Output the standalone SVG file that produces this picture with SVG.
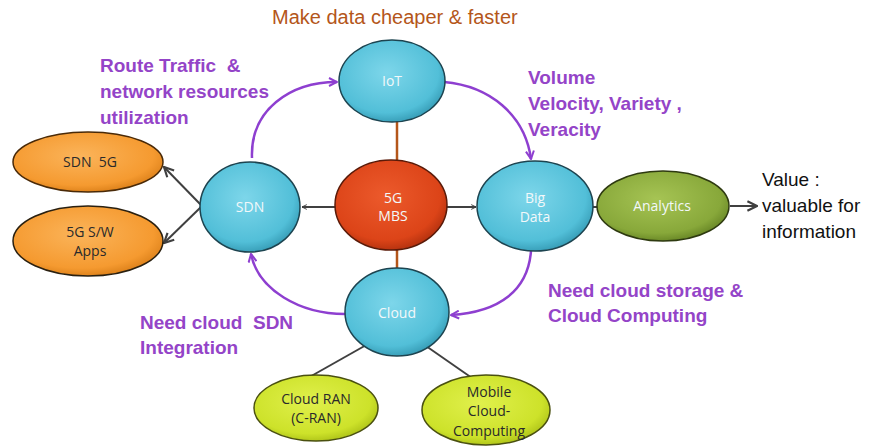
<svg xmlns="http://www.w3.org/2000/svg" width="872" height="447" viewBox="0 0 872 447">
<style>
text{white-space:pre}
.lbl{font-family:"Liberation Sans",Arial,sans-serif;font-size:19px;font-weight:bold;fill:#9444c8}
.nt{font-family:"Open Sans","Liberation Sans",sans-serif;font-size:14px;text-anchor:middle}
.w{fill:#f2f8fa}
.d{fill:#2a2a2a}
.gray{stroke:#404040;stroke-width:2;fill:none}
.pur{stroke:#8e3fd0;stroke-width:2.5;fill:none}
.brn{stroke:#b4561a;stroke-width:2.5;fill:none}
.blue{fill:url(#gBlue);stroke:#1d4450;stroke-width:1.5}
</style>
<defs>
<radialGradient id="gBlue" cx="0.45" cy="0.4" r="0.65"><stop offset="0" stop-color="#7dd6ea"/><stop offset="0.75" stop-color="#52bfd8"/><stop offset="1" stop-color="#2f93ad"/></radialGradient>
<radialGradient id="gRed" cx="0.45" cy="0.4" r="0.65"><stop offset="0" stop-color="#ec5a2c"/><stop offset="0.75" stop-color="#dc4418"/><stop offset="1" stop-color="#a82c0c"/></radialGradient>
<radialGradient id="gOr" cx="0.45" cy="0.4" r="0.65"><stop offset="0" stop-color="#fbb45a"/><stop offset="0.75" stop-color="#f59a30"/><stop offset="1" stop-color="#d67a14"/></radialGradient>
<radialGradient id="gGr" cx="0.45" cy="0.4" r="0.65"><stop offset="0" stop-color="#a6c454"/><stop offset="0.75" stop-color="#88a83a"/><stop offset="1" stop-color="#5f7d20"/></radialGradient>
<radialGradient id="gYg" cx="0.45" cy="0.4" r="0.65"><stop offset="0" stop-color="#e0f04c"/><stop offset="0.75" stop-color="#cde22a"/><stop offset="1" stop-color="#a6bb14"/></radialGradient>
<marker id="aG" viewBox="0 0 10 10" refX="9" refY="5" markerWidth="6" markerHeight="6" orient="auto-start-reverse" markerUnits="userSpaceOnUse"><path d="M1,1 L9,5 L1,9" fill="none" stroke="#404040" stroke-width="1.6"/></marker>
<marker id="aP" viewBox="0 0 10 10" refX="9" refY="5" markerWidth="10" markerHeight="10" orient="auto" markerUnits="userSpaceOnUse"><path d="M1,1 L9,5 L1,9" fill="none" stroke="#8e3fd0" stroke-width="2"/></marker>
<marker id="aK" viewBox="0 0 10 10" refX="9" refY="5" markerWidth="12" markerHeight="12" orient="auto" markerUnits="userSpaceOnUse"><path d="M1,1 L9,5 L1,9" fill="none" stroke="#404040" stroke-width="1.8"/></marker>
</defs>

<g id="connectors">
<line class="brn" x1="397" y1="120" x2="397" y2="164"/>
<line class="brn" x1="397" y1="248" x2="397" y2="270"/>
<line class="gray" x1="336" y1="207" x2="302" y2="207" marker-end="url(#aG)"/>
<line class="gray" x1="446" y1="207" x2="476" y2="207" marker-end="url(#aG)"/>
<line class="gray" x1="593" y1="207" x2="598" y2="207"/>
<line class="gray" x1="730" y1="206" x2="757" y2="206" marker-end="url(#aK)"/>
<line class="gray" x1="201" y1="205" x2="164" y2="167" marker-end="url(#aK)"/>
<line class="gray" x1="201" y1="207" x2="164" y2="243" marker-end="url(#aK)"/>
<line class="gray" x1="368" y1="344" x2="306" y2="379"/>
<line class="gray" x1="426" y1="346" x2="472" y2="378"/>
<path class="pur" d="M252,158 C250,110 290,82 337,82" marker-end="url(#aP)"/>
<path class="pur" d="M444,82 C490,86 525,115 531,159" marker-end="url(#aP)"/>
<path class="pur" d="M531,251 C528,290 500,312 451,315" marker-end="url(#aP)"/>
<path class="pur" d="M345,314 C300,314 258,290 251,254" marker-end="url(#aP)"/>
</g>

<g id="iot"><ellipse class="blue" cx="392" cy="81" rx="53" ry="41"/><text class="nt w" x="392" y="86">IoT</text></g>
<g id="sdn"><ellipse class="blue" cx="250" cy="207" rx="50" ry="45"/><text class="nt w" x="250" y="212">SDN</text></g>
<g id="mbs"><ellipse cx="391" cy="205" rx="56" ry="45" fill="url(#gRed)" stroke="#5a1a08" stroke-width="1.5"/><text class="nt w" x="393" y="203">5G</text><text class="nt w" x="393" y="221">MBS</text></g>
<g id="bigdata"><ellipse class="blue" cx="535" cy="206" rx="58" ry="45"/><text class="nt w" x="535" y="203">Big</text><text class="nt w" x="535" y="222">Data</text></g>
<g id="cloud"><ellipse class="blue" cx="397" cy="312" rx="52" ry="44"/><text class="nt w" x="397" y="318">Cloud</text></g>
<g id="analytics"><ellipse cx="663" cy="206" rx="66" ry="35" fill="url(#gGr)" stroke="#2e3a10" stroke-width="1.5"/><text class="nt w" x="662" y="211">Analytics</text></g>
<g id="sdn5g"><ellipse cx="88" cy="162" rx="75" ry="30" fill="url(#gOr)" stroke="#4a2a08" stroke-width="1.5"/><text class="nt d" x="90" y="167">SDN  5G</text></g>
<g id="swapps"><ellipse cx="88" cy="241" rx="75" ry="35" fill="url(#gOr)" stroke="#2a2010" stroke-width="1.5"/><text class="nt d" x="90" y="237">5G S/W</text><text class="nt d" x="90" y="256">Apps</text></g>
<g id="cran"><ellipse cx="316" cy="408" rx="62" ry="33" fill="url(#gYg)" stroke="#4a5010" stroke-width="1.5"/><text class="nt d" x="316" y="404">Cloud RAN</text><text class="nt d" x="316" y="423">(C-RAN)</text></g>
<g id="mcc"><ellipse cx="486" cy="410" rx="64" ry="35" fill="url(#gYg)" stroke="#4a5010" stroke-width="1.5"/><text class="nt d" x="489" y="397">Mobile</text><text class="nt d" x="489" y="416">Cloud-</text><text class="nt d" x="489" y="436">Computing</text></g>

<g id="labels">
<text x="272" y="24" style="font-family:'Liberation Sans',Arial,sans-serif;font-size:20px;fill:#b4561a">Make data cheaper &amp; faster</text>
<text class="lbl" x="100" y="72">Route Traffic  &amp;</text>
<text class="lbl" x="100" y="98">network resources</text>
<text class="lbl" x="100" y="124">utilization</text>
<text class="lbl" x="528" y="84">Volume</text>
<text class="lbl" x="528" y="110">Velocity, Variety ,</text>
<text class="lbl" x="528" y="136">Veracity</text>
<text class="lbl" x="548" y="297">Need cloud storage &amp;</text>
<text class="lbl" x="548" y="322">Cloud Computing</text>
<text class="lbl" x="140" y="329">Need cloud  SDN</text>
<text class="lbl" x="140" y="354">Integration</text>
<g style="font-family:'Liberation Sans',Arial,sans-serif;font-size:19px;fill:#111">
<text x="762" y="186">Value :</text>
<text x="762" y="212">valuable for</text>
<text x="762" y="238">information</text>
</g>
</g>
</svg>
